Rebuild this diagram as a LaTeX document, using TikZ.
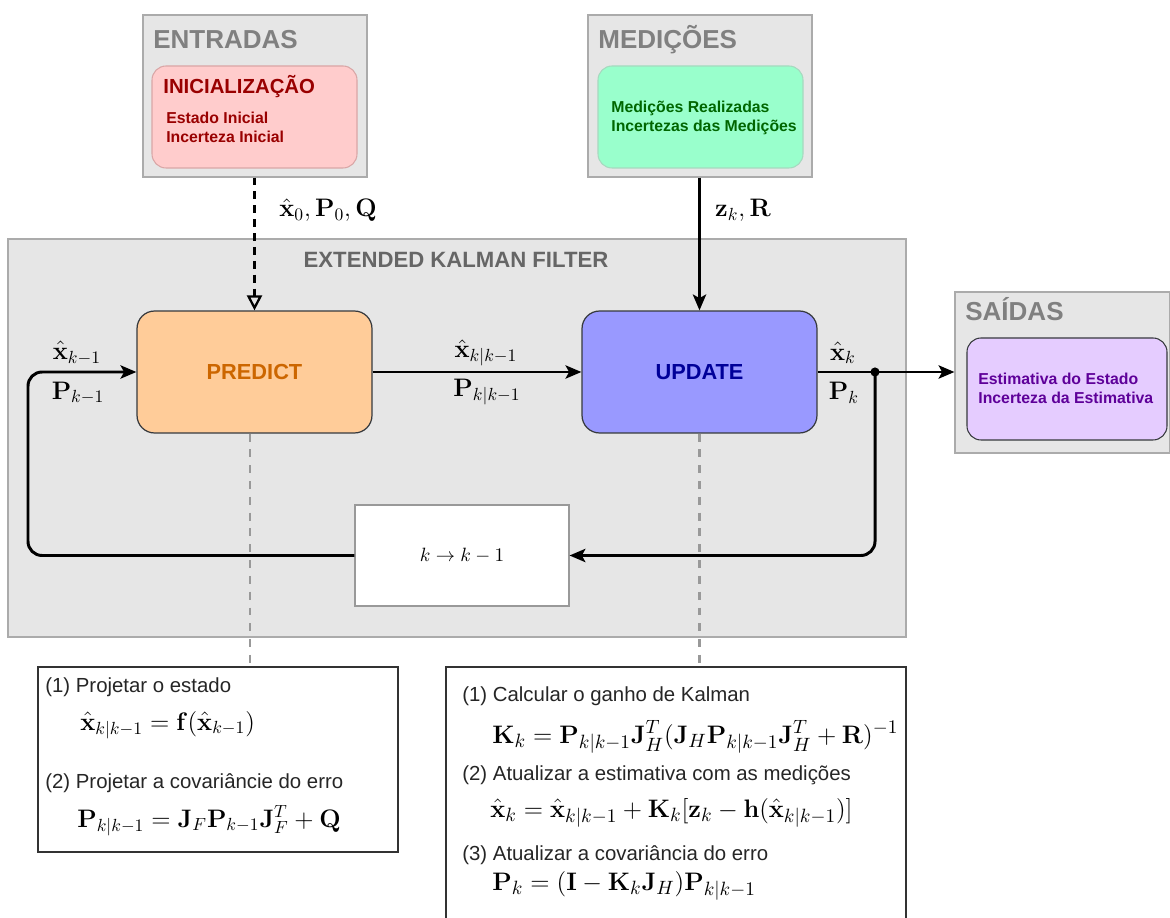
\documentclass[tikz,border=0pt]{standalone}
\usepackage[no-math]{fontspec}
\setmainfont{Liberation Sans}
\usepackage{amsmath}
\usetikzlibrary{arrows.meta,fit,calc}

\definecolor{groupfill}{HTML}{E6E6E6}
\definecolor{groupline}{HTML}{ABABAB}
\definecolor{grouptext}{HTML}{808080}
\definecolor{ekftext}{HTML}{666666}
\definecolor{pinkfill}{HTML}{FFCCCC}
\definecolor{pinkline}{HTML}{D9A6A6}
\definecolor{pinktext}{HTML}{990000}
\definecolor{greenfill}{HTML}{99FFCC}
\definecolor{greenline}{HTML}{A6D9BF}
\definecolor{greentext}{HTML}{006600}
\definecolor{violetfill}{HTML}{E5CCFF}
\definecolor{violetline}{HTML}{36393D}
\definecolor{violettext}{HTML}{5E0099}
\definecolor{predfill}{HTML}{FFCC99}
\definecolor{predtext}{HTML}{CC6600}
\definecolor{updfill}{HTML}{9999FF}
\definecolor{updtext}{HTML}{000099}
\definecolor{blockline}{HTML}{36393D}
\definecolor{guidegray}{HTML}{999999}

\newcommand\grpfont{\fontsize{14.8}{17}\selectfont\bfseries}
\newcommand\ekffont{\fontsize{12.6}{15}\selectfont\bfseries}
\newcommand\cardtitlefont{\fontsize{11.6}{14}\selectfont\bfseries}
\newcommand\cardfont{\fontsize{9}{11}\selectfont\bfseries}
\newcommand\blockfont{\fontsize{12.4}{15}\selectfont\bfseries}
\newcommand\bodyfont{\fontsize{11.6}{14}\selectfont}
\newcommand\eqfont{\fontsize{14}{17}\selectfont}
\newcommand\predeqfont{\fontsize{14.5}{17}\selectfont}
\newcommand\updeqfont{\fontsize{15.3}{18}\selectfont}

\begin{document}
\begin{tikzpicture}[x=0.02cm,y=-0.02cm,
  group/.style={draw=groupline, fill=groupfill, line width=0.6pt, inner sep=0pt},
  grptitle/.style={anchor=base west, inner sep=0pt, text=grouptext, font=\grpfont},
  card/.style={rounded corners=8pt, line width=0.6pt, inner sep=0pt},
  cardline/.style={anchor=base west, inner sep=0pt, font=\cardfont},
  block/.style={draw=blockline, rounded corners=10pt, line width=0.7pt,
    minimum width=4.7cm, minimum height=2.44cm, font=\blockfont},
  eqbox/.style={draw=black!80, fill=white, line width=0.7pt, inner sep=0pt},
  bodyline/.style={anchor=base west, inner sep=0pt, font=\bodyfont, text=black!85},
  eqline/.style={anchor=base west, inner sep=0pt},
  lbl/.style={inner sep=0pt, font=\eqfont},
  flow/.style={line width=1.7pt, -{Stealth[length=9pt, width=7.5pt, inset=2pt]}},
  initflow/.style={line width=1.4pt, dash pattern=on 4.5pt off 3.4pt,
    -{Triangle[open, length=8.5pt, width=8.5pt, line width=1.3pt]}},
  guide/.style={draw=guidegray, line width=1.2pt, dash pattern=on 4.5pt off 4.5pt}
]
\useasboundingbox (0,0) rectangle (1170,918);

% ---------- extended Kalman filter frame ----------
\node[group, fit={(8,239) (906,637)}] (ekf) {};
\node[anchor=base, inner sep=0pt, text=ekftext, font=\ekffont] (ekfT) at (456,268) {EXTENDED KALMAN FILTER};

% ---------- inputs ----------
\node[group, fit={(143,15) (367,177)}] (entradas) {};
\node[grptitle] (entradasT) at (153,49) {ENTRADAS};
\node[card, fill=pinkfill, draw=pinkline, fit={(152,66) (357,168)}] (inic) {};
\node[anchor=base west, inner sep=0pt, text=pinktext, font=\cardtitlefont] (inicT) at (163,94) {INICIALIZAÇÃO};
\node[cardline, text=pinktext] (inicA) at (166,124) {Estado Inicial};
\node[cardline, text=pinktext] (inicB) at (166,143) {Incerteza Inicial};

% ---------- measurements ----------
\node[group, fit={(588,15) (812,177)}] (medicoes) {};
\node[grptitle] (medicoesT) at (598,49) {MEDIÇÕES};
\node[card, fill=greenfill, draw=greenline, fit={(598,66) (803,168)}] (medin) {};
\node[cardline, text=greentext] (medA) at (611,113) {Medições Realizadas};
\node[cardline, text=greentext] (medB) at (611,132) {Incertezas das Medições};

% ---------- outputs ----------
\node[group, fit={(955,292) (1169.5,453)}] (saidas) {};
\node[grptitle] (saidasT) at (965,321) {SAÍDAS};
\node[card, fill=violetfill, draw=violetline, fit={(967,338) (1167,440)}] (saidin) {};
\node[cardline, text=violettext] (saiA) at (978,385) {Estimativa do Estado};
\node[cardline, text=violettext] (saiB) at (978,404) {Incerteza da Estimativa};

% ---------- filter blocks ----------
\node[block, fill=predfill, text=predtext] (predict) at (254.5,372) {PREDICT};
\node[block, fill=updfill, text=updtext] (update) at (699.5,372) {UPDATE};
\node[draw=guidegray, fill=white, line width=0.6pt, minimum width=4.28cm,
  minimum height=2.02cm, font=\fontsize{10.5}{12}\selectfont] (delay) at (462,555.5) {$k \rightarrow k-1$};

% ---------- equation panels ----------
\node[eqbox, fit={(38,667) (398,852)}] (predeq) {};
\node[bodyline] (p1) at (45,692) {(1) Projetar o estado};
\node[eqline, font=\predeqfont] (p1eq) at (80,730) {$\hat{\mathbf{x}}_{k|k-1} = \mathbf{f}(\hat{\mathbf{x}}_{k-1})$};
\node[bodyline] (p2) at (45,788) {(2) Projetar a covariâncie do erro};
\node[eqline, font=\predeqfont] (p2eq) at (77,827) {$\mathbf{P}_{k|k-1} = \mathbf{J}_F\mathbf{P}_{k-1}\mathbf{J}_F^T + \mathbf{Q}$};

\node[eqbox, fit={(446,667) (906,960)}] (updeq) {};
\node[bodyline] (u1) at (462,702) {(1) Calcular o ganho de Kalman};
\node[eqline, font=\updeqfont] (u1eq) at (492,743) {$\mathbf{K}_k = \mathbf{P}_{k|k-1}\mathbf{J}_H^T(\mathbf{J}_H\mathbf{P}_{k|k-1}\mathbf{J}_H^T + \mathbf{R})^{-1}$};
\node[bodyline] (u2) at (462,780) {(2) Atualizar a estimativa com as medições};
\node[eqline, font=\updeqfont] (u2eq) at (490,817) {$\hat{\mathbf{x}}_k = \hat{\mathbf{x}}_{k|k-1} + \mathbf{K}_k[\mathbf{z}_k - \mathbf{h}(\hat{\mathbf{x}}_{k|k-1})]$};
\node[bodyline] (u3) at (462,860) {(3) Atualizar a covariância do erro};
\node[eqline, font=\updeqfont] (u3eq) at (492,890) {$\mathbf{P}_k = (\mathbf{I} - \mathbf{K}_k\mathbf{J}_H)\mathbf{P}_{k|k-1}$};

% ---------- guides from blocks to their equations ----------
\draw[guide] ($(predict.south)+(-4.5,0)$) -- ($(predict.south |- predeq.north)+(-4.5,0)$);
\draw[guide] (update.south) -- (update.south |- updeq.north);

% ---------- signal flow ----------
\draw[initflow] (entradas.south -| predict.north) -- (predict.north);
\draw[flow] (medicoes.south -| update.north) -- (update.north);
\draw[flow] (predict.east) -- (update.west);
\draw[flow] (update.east) -- (update.east -| saidas.west);
\coordinate (split) at (875,372);
\coordinate (loopx) at (28,372);
\draw[flow, rounded corners=8pt] (split) |- (delay.east);
\draw[flow, rounded corners=8pt] (delay.west) -| (loopx) -- (predict.west);
\fill (split) circle (2.6pt);

% ---------- signal labels ----------
\node[lbl] (lx0) at (328,210) {$\hat{\mathbf{x}}_0, \mathbf{P}_0, \mathbf{Q}$};
\node[lbl] (lz) at (743,210) {$\mathbf{z}_k, \mathbf{R}$};
\node[lbl] (lxa) at (77,353) {$\hat{\mathbf{x}}_{k-1}$};
\node[lbl] (lpa) at (78,393) {$\mathbf{P}_{k-1}$};
\node[lbl] (lxb) at (486,353) {$\hat{\mathbf{x}}_{k|k-1}$};
\node[lbl] (lpb) at (487,392) {$\mathbf{P}_{k|k-1}$};
\node[lbl] (lxc) at (843,353) {$\hat{\mathbf{x}}_k$};
\node[lbl] (lpc) at (844,393) {$\mathbf{P}_k$};
\end{tikzpicture}
\end{document}
